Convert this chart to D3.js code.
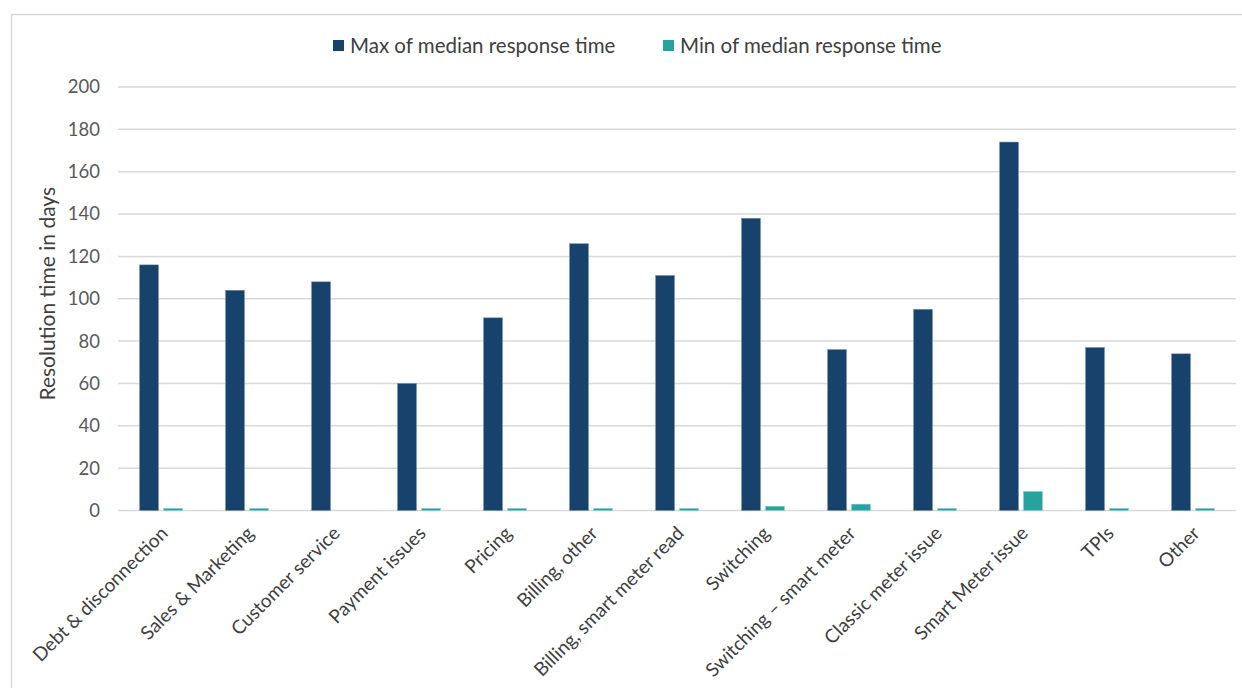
<!DOCTYPE html>
<html>
<head>
<meta charset="utf-8">
<script src="https://cdn.jsdelivr.net/npm/d3@7"></script>
<style>
  body { margin: 0; background: #fff; }
  svg { display: block; }
  text { font-family: Lato, "Open Sans", "Liberation Sans", sans-serif; }
</style>
</head>
<body>
<svg id="chart" width="1242" height="688"></svg>
<script>
// Complaint categories
const categories = [
  "Debt & disconnection", "Sales & Marketing", "Customer service", "Payment issues",
  "Pricing", "Billing, other", "Billing, smart meter read", "Switching",
  "Switching – smart meter", "Classic meter issue", "Smart Meter issue", "TPIs", "Other"
];
// Resolution time in days
const maxMedian = [116, 104, 108, 60, 91, 126, 111, 138, 76, 95, 174, 77, 74];
const minMedian = [1, 1, 0, 1, 1, 1, 1, 2, 3, 1, 9, 1, 1];
const yTicks = [0, 20, 40, 60, 80, 100, 120, 140, 160, 180, 200];
const seriesNames = ["Max of median response time", "Min of median response time"];
const seriesColors = ["#17426C", "#27A39F"];
const yTitle = "Resolution time in days";

const svg = d3.select("#chart");
const W = 1242, H = 688;
const plot = { left: 118, right: 1236, top: 87, bottom: 510.5 };

// Outer chart frame
svg.append("rect")
  .attr("x", 11.5).attr("y", 14.5)
  .attr("width", W + 20).attr("height", H + 20)
  .attr("fill", "none").attr("stroke", "#d9d9d9").attr("stroke-width", 1.5);

const x = d3.scaleBand().domain(categories).range([plot.left, plot.right]).padding(0);
const xs = d3.scaleBand().domain(seriesNames).range([0, x.bandwidth()])
  .paddingInner(0.21).paddingOuter(0.9);
const y = d3.scaleLinear().domain([0, 200]).range([plot.bottom, plot.top]);

// Horizontal gridlines
svg.append("g").selectAll("line").data(yTicks).join("line")
  .attr("x1", plot.left).attr("x2", plot.right)
  .attr("y1", d => y(d)).attr("y2", d => y(d))
  .attr("stroke", "#d9d9d9").attr("stroke-width", 1.5);

// Y axis labels
const yAxis = svg.append("g")
  .attr("transform", `translate(${plot.left},0)`)
  .call(d3.axisLeft(y).tickValues(yTicks).tickSize(0).tickPadding(18));
yAxis.select(".domain").remove();
yAxis.selectAll("text").attr("font-size", 18.5).attr("fill", "#595959")
  .style("font-family", "Lato, 'Open Sans', sans-serif");

// Y axis title
svg.append("text")
  .attr("transform", `translate(55,${(plot.top + plot.bottom) / 2 - 5}) rotate(-90)`)
  .attr("text-anchor", "middle")
  .attr("font-size", 21).attr("fill", "#404040")
  .text(yTitle);

// Bars
const series = [maxMedian, minMedian];
series.forEach((vals, si) => {
  svg.append("g").selectAll("rect").data(categories).join("rect")
    .attr("x", (c) => x(c) + xs(seriesNames[si]))
    .attr("width", xs.bandwidth())
    .attr("y", (c, i) => y(vals[i]))
    .attr("height", (c, i) => y(0) - y(vals[i]))
    .attr("fill", seriesColors[si])
    .attr("stroke", vals === maxMedian ? "#6f8fae" : "#8fd0cd")
    .attr("stroke-width", 0.6)
    .attr("stroke-opacity", (c, i) => vals[i] > 0 ? 0.8 : 0);
});

// X axis labels, rotated
svg.append("g").selectAll("text").data(categories).join("text")
  .attr("transform", c => `translate(${x(c) + x.bandwidth() / 2 + 8},${plot.bottom + 24}) rotate(-45)`)
  .attr("text-anchor", "end")
  .attr("font-size", 19).attr("fill", "#404040")
  .text(c => c);

// Legend
const legend = svg.append("g");
const legendItems = [
  { name: seriesNames[0], color: seriesColors[0], x: 333 },
  { name: seriesNames[1], color: seriesColors[1], x: 663 }
];
legendItems.forEach(it => {
  legend.append("rect").attr("x", it.x).attr("y", 40).attr("width", 11).attr("height", 11)
    .attr("fill", it.color);
  legend.append("text").attr("x", it.x + 17).attr("y", 52.5)
    .attr("font-size", 20.5).attr("fill", "#404040").text(it.name);
});
</script>
</body>
</html>
